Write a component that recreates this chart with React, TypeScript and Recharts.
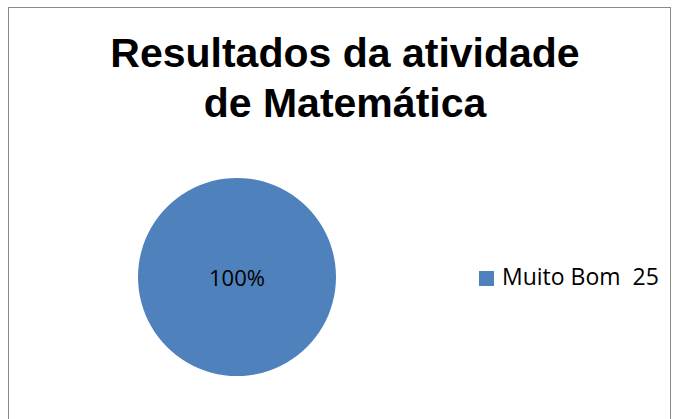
import { PieChart, Pie, Cell, Legend } from "recharts";

const categories = ["Muito Bom"];
const values = [25];
const COLORS = ["#4F81BD"];

const data = categories.map((name, i) => ({ name, value: values[i] }));
const total = values.reduce((a, b) => a + b, 0);

const renderLabel = (props: any) => {
    const { cx, cy, value } = props;
    return (
        <text x={cx} y={cy} textAnchor="middle" dominantBaseline="central" fill="#000" fontSize={22} fontFamily="'Open Sans', sans-serif">
            {`${Math.round((value / total) * 100)}%`}
        </text>
    );
};

export default function App() {
    return (
        <div style={{ position: "absolute", left: 0, top: 0, width: 675, height: 419, background: "#fff", overflow: "hidden" }}>
            <div style={{ position: "absolute", left: 8, top: 7, width: 663, height: 430, border: "1px solid #8a8a8a", boxSizing: "border-box" }} />
            <div style={{ position: "absolute", left: 8, top: 28, width: 674, textAlign: "center", fontFamily: "'Liberation Sans', Arial, sans-serif", fontWeight: "bold", fontSize: 41, lineHeight: "50px", color: "#000" }}>
                Resultados da atividade<br />de Matemática
            </div>
            <div style={{ position: "absolute", left: 0, top: 0 }}>
                <PieChart width={675} height={419} margin={{ top: 0, right: 0, bottom: 0, left: 0 }}>
                    <Pie
                        data={data}
                        dataKey="value"
                        nameKey="name"
                        cx={237}
                        cy={277}
                        outerRadius={99}
                        startAngle={90}
                        endAngle={-270}
                        stroke="none"
                        label={renderLabel}
                        labelLine={false}
                        isAnimationActive={false}
                    >
                        {data.map((entry, index) => (
                            <Cell key={`cell-${index}`} fill={COLORS[index % COLORS.length]} />
                        ))}
                    </Pie>
                    <Legend
                        layout="vertical"
                        iconType="square"
                        iconSize={15}
                        formatter={(value: any, entry: any) => (
                            <span style={{ color: "#000", whiteSpace: "pre", paddingLeft: 4 }}>{`${value}  ${entry.payload.value}`}</span>
                        )}
                        wrapperStyle={{ position: "absolute", left: 479, top: 260, width: 196, fontSize: 23, fontFamily: "'Open Sans', sans-serif" }}
                    />
                </PieChart>
            </div>
        </div>
    );
}
